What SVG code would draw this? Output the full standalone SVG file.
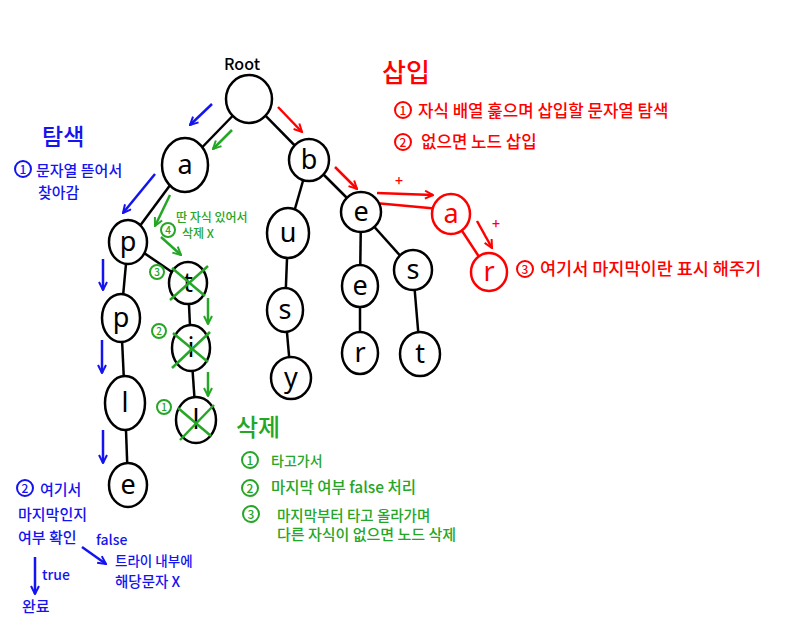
<svg xmlns="http://www.w3.org/2000/svg" width="789" height="644" viewBox="0 0 789 644">
<style>
.n ellipse{fill:#fff;stroke:#000;stroke-width:2.5}
.nr ellipse{fill:#fff;stroke:#f00;stroke-width:2.5}
.n text{font-family:"Noto Sans","DejaVu Sans",sans-serif;font-size:27px;fill:#000;text-anchor:middle}
.nr text{font-family:"Noto Sans","DejaVu Sans",sans-serif;font-size:27px;fill:#f00;text-anchor:middle}
.e{stroke:#000;stroke-width:2.5;fill:none}
.er{stroke:#f00;stroke-width:2.5;fill:none}
.ab{stroke:#1414f0;stroke-width:2.5;fill:none;marker-end:url(#mb)}
.ar{stroke:#f00;stroke-width:2.5;fill:none;marker-end:url(#mr)}
.ag{stroke:#26a626;stroke-width:2.5;fill:none;marker-end:url(#mg)}
.x{stroke:#26a626;stroke-width:2.5}
.t{font-family:"Noto Sans CJK KR","Noto Sans",sans-serif;font-weight:500}
.b{fill:#1414f0}.r{fill:#f00}.g{fill:#26a626}
.c{fill:none;stroke-width:2}
</style>
<defs>
<marker id="mb" viewBox="0 0 10 10" refX="9" refY="5" markerWidth="10" markerHeight="10" markerUnits="userSpaceOnUse" orient="auto"><path d="M1,1 L9,5 L1,9" fill="none" stroke="#1414f0" stroke-width="2"/></marker>
<marker id="mr" viewBox="0 0 10 10" refX="9" refY="5" markerWidth="10" markerHeight="10" markerUnits="userSpaceOnUse" orient="auto"><path d="M1,1 L9,5 L1,9" fill="none" stroke="#f00" stroke-width="2"/></marker>
<marker id="mg" viewBox="0 0 10 10" refX="9" refY="5" markerWidth="10" markerHeight="10" markerUnits="userSpaceOnUse" orient="auto"><path d="M1,1 L9,5 L1,9" fill="none" stroke="#26a626" stroke-width="2"/></marker>
</defs>

<g id="connectors">
<line class="e" x1="249" y1="99" x2="185" y2="165"/>
<line class="e" x1="249" y1="99" x2="309" y2="160"/>
<line class="e" x1="185" y1="165" x2="128" y2="242"/>
<line class="e" x1="128" y1="242" x2="188" y2="283"/>
<line class="e" x1="128" y1="242" x2="121" y2="318"/>
<line class="e" x1="121" y1="318" x2="125" y2="403"/>
<line class="e" x1="125" y1="403" x2="128" y2="485"/>
<line class="e" x1="188" y1="283" x2="191" y2="348"/>
<line class="e" x1="191" y1="348" x2="196" y2="420"/>
<line class="e" x1="309" y1="160" x2="288" y2="233"/>
<line class="e" x1="309" y1="160" x2="361" y2="212"/>
<line class="e" x1="288" y1="233" x2="285" y2="310"/>
<line class="e" x1="285" y1="310" x2="291" y2="378"/>
<line class="e" x1="361" y1="212" x2="360" y2="286"/>
<line class="e" x1="360" y1="286" x2="360" y2="353"/>
<line class="e" x1="361" y1="212" x2="413" y2="270"/>
<line class="e" x1="413" y1="270" x2="420" y2="353"/>
<line class="er" x1="375" y1="203" x2="451" y2="210"/>
<line class="er" x1="451" y1="214" x2="489" y2="272"/>
<!-- blue search arrows -->
<line class="ab" x1="212" y1="104" x2="190" y2="125"/>
<line class="ab" x1="155" y1="174" x2="123" y2="213"/>
<line class="ab" x1="103" y1="259" x2="103" y2="290"/>
<line class="ab" x1="102" y1="340" x2="102" y2="373"/>
<line class="ab" x1="103" y1="430" x2="103" y2="463"/>
<line class="ab" x1="35" y1="557" x2="35" y2="594"/>
<line class="ab" x1="82" y1="547" x2="106" y2="564"/>
<!-- red insert arrows -->
<line class="ar" x1="278" y1="107" x2="302" y2="132"/>
<line class="ar" x1="335" y1="167" x2="357" y2="189"/>
<line class="ar" x1="377" y1="193" x2="433" y2="195"/>
<line class="ar" x1="477" y1="221" x2="492" y2="248"/>
<!-- green delete arrows -->
<line class="ag" x1="232" y1="130" x2="213" y2="149"/>
<line class="ag" x1="170" y1="195" x2="155" y2="226"/>
<line class="ag" x1="161" y1="237" x2="181" y2="255"/>
<line class="ag" x1="208" y1="298" x2="208" y2="324"/>
<line class="ag" x1="208" y1="372" x2="208" y2="396"/>
</g>

<g id="node-root" class="n"><ellipse cx="249" cy="99" rx="23" ry="24"/></g>
<g id="node-a" class="n"><ellipse cx="185" cy="165" rx="23" ry="27"/><text x="185" y="174">a</text></g>
<g id="node-p1" class="n"><ellipse cx="128" cy="242" rx="19" ry="22"/><text x="128" y="251">p</text></g>
<g id="node-p2" class="n"><ellipse cx="121" cy="318" rx="19" ry="24"/><text x="121" y="327">p</text></g>
<g id="node-l" class="n"><ellipse cx="125" cy="403" rx="20" ry="27"/><text x="125" y="412">l</text></g>
<g id="node-e1" class="n"><ellipse cx="128" cy="485" rx="19" ry="22"/><text x="128" y="494">e</text></g>
<g id="node-t-del" class="n"><ellipse cx="188" cy="283" rx="19" ry="21"/><text x="188" y="292">t</text>
<line class="x" x1="170" y1="300" x2="208" y2="266"/><line class="x" x1="172" y1="268" x2="205" y2="296"/></g>
<g id="node-i-del" class="n"><ellipse cx="191" cy="348" rx="19" ry="23"/><text x="191" y="357">i</text>
<line class="x" x1="172" y1="368" x2="210" y2="332"/><line class="x" x1="173" y1="333" x2="208" y2="362"/></g>
<g id="node-l-del" class="n"><ellipse cx="196" cy="420" rx="20" ry="23"/><text x="196" y="429">l</text>
<line class="x" x1="180" y1="440" x2="214" y2="405"/><line class="x" x1="178" y1="408" x2="211" y2="436"/></g>
<g id="node-b" class="n"><ellipse cx="309" cy="160" rx="20" ry="21"/><text x="309" y="169">b</text></g>
<g id="node-u" class="n"><ellipse cx="288" cy="233" rx="21" ry="25"/><text x="288" y="242">u</text></g>
<g id="node-s1" class="n"><ellipse cx="285" cy="310" rx="18" ry="22"/><text x="285" y="319">s</text></g>
<g id="node-y" class="n"><ellipse cx="291" cy="378" rx="20" ry="21"/><text x="291" y="387">y</text></g>
<g id="node-e2" class="n"><ellipse cx="361" cy="212" rx="20" ry="20"/><text x="361" y="221">e</text></g>
<g id="node-e3" class="n"><ellipse cx="360" cy="286" rx="18" ry="21"/><text x="360" y="295">e</text></g>
<g id="node-r1" class="n"><ellipse cx="360" cy="353" rx="18" ry="21"/><text x="360" y="362">r</text></g>
<g id="node-s2" class="n"><ellipse cx="413" cy="270" rx="19" ry="20"/><text x="413" y="279">s</text></g>
<g id="node-t" class="n"><ellipse cx="420" cy="354" rx="20" ry="22"/><text x="420" y="363">t</text></g>
<g id="node-a-new" class="nr"><ellipse cx="451" cy="214" rx="19" ry="20"/><text x="451" y="223">a</text></g>
<g id="node-r-new" class="nr"><ellipse cx="489" cy="272" rx="18" ry="19"/><text x="489" y="281">r</text></g>

<g id="labels">
<text class="t" x="224" y="70" font-size="16">Root</text>
<!-- search -->
<g class="b">
<text class="t" x="42" y="145" font-size="23">탐색</text>
<circle class="c" cx="23" cy="169" r="8" stroke="#1414f0"/><text class="t" x="23" y="174" font-size="12" text-anchor="middle">1</text>
<text class="t" x="36" y="176" font-size="15">문자열 뜯어서</text>
<text class="t" x="38" y="198" font-size="15">찾아감</text>
<circle class="c" cx="25" cy="488" r="8" stroke="#1414f0"/><text class="t" x="25" y="493" font-size="12" text-anchor="middle">2</text>
<text class="t" x="40" y="495" font-size="15">여기서</text>
<text class="t" x="18" y="520" font-size="15">마지막인지</text>
<text class="t" x="18" y="543" font-size="15">여부 확인</text>
<text class="t" x="96" y="545" font-size="14">false</text>
<text class="t" x="42" y="580" font-size="14">true</text>
<text class="t" x="115" y="566" font-size="13.5">트라이 내부에</text>
<text class="t" x="115" y="587" font-size="14.5">해당문자 X</text>
<text class="t" x="22" y="612" font-size="15">완료</text>
</g>
<!-- insert -->
<g class="r">
<text class="t" x="382" y="82" font-size="26">삽입</text>
<circle class="c" cx="403" cy="110" r="8" stroke="#f00"/><text class="t" x="403" y="115" font-size="12" text-anchor="middle">1</text>
<text class="t" x="418" y="117" font-size="16.8">자식 배열 훑으며 삽입할 문자열 탐색</text>
<circle class="c" cx="403" cy="142" r="8" stroke="#f00"/><text class="t" x="403" y="147" font-size="12" text-anchor="middle">2</text>
<text class="t" x="421" y="148" font-size="16.8">없으면 노드 삽입</text>
<circle class="c" cx="525" cy="269" r="8" stroke="#f00"/><text class="t" x="525" y="274" font-size="12" text-anchor="middle">3</text>
<text class="t" x="540" y="275" font-size="17.5">여기서 마지막이란 표시 해주기</text>
<text class="t" x="395" y="186" font-size="14">+</text>
<text class="t" x="492" y="229" font-size="14">+</text>
</g>
<!-- delete -->
<g class="g">
<text class="t" x="236" y="436" font-size="24">삭제</text>
<circle class="c" cx="250" cy="460" r="8" stroke="#26a626"/><text class="t" x="250" y="465" font-size="12" text-anchor="middle">1</text>
<text class="t" x="271" y="466" font-size="14">타고가서</text>
<circle class="c" cx="250" cy="488" r="8" stroke="#26a626"/><text class="t" x="250" y="493" font-size="12" text-anchor="middle">2</text>
<text class="t" x="271" y="493" font-size="15.5">마지막 여부 false 처리</text>
<circle class="c" cx="251" cy="514" r="8" stroke="#26a626"/><text class="t" x="251" y="519" font-size="12" text-anchor="middle">3</text>
<text class="t" x="277" y="521" font-size="14.5">마지막부터 타고 올라가며</text>
<text class="t" x="277" y="540" font-size="15">다른 자식이 없으면 노드 삭제</text>
<circle class="c" cx="168" cy="230" r="7" stroke="#26a626"/><text class="t" x="168" y="234" font-size="10" text-anchor="middle">4</text>
<text class="t" x="176" y="222" font-size="12">딴 자식 있어서</text>
<text class="t" x="182" y="238" font-size="12">삭제 X</text>
<circle class="c" cx="157" cy="272" r="7" stroke="#26a626"/><text class="t" x="157" y="276" font-size="10" text-anchor="middle">3</text>
<circle class="c" cx="159" cy="331" r="7" stroke="#26a626"/><text class="t" x="159" y="335" font-size="10" text-anchor="middle">2</text>
<circle class="c" cx="164" cy="407" r="7" stroke="#26a626"/><text class="t" x="164" y="411" font-size="10" text-anchor="middle">1</text>
</g>
</g>
</svg>
